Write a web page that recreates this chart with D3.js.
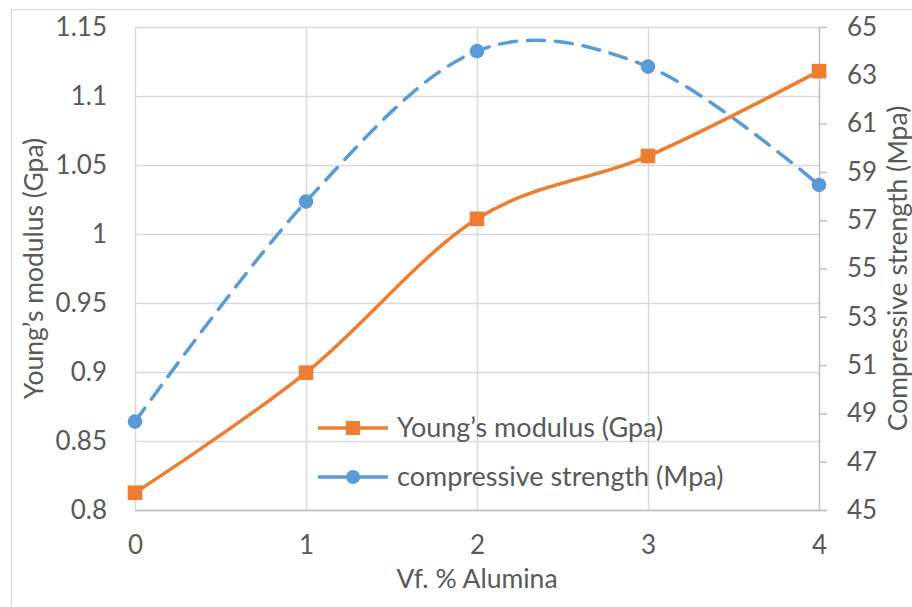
<!DOCTYPE html>
<html>
<head>
<meta charset="utf-8">
<script src="https://cdn.jsdelivr.net/npm/d3@7"></script>
<style>
  html, body { margin: 0; padding: 0; background: #fff; }
  svg { display: block; }
  text { font-family: Lato, "Open Sans", sans-serif; fill: #595959; }
</style>
</head>
<body>
<svg id="chart" width="912" height="607"></svg>
<script>
// ---- data ----
const categories = [0, 1, 2, 3, 4];
const youngsModulus = [0.8125, 0.8995, 1.011, 1.0565, 1.118];
const compressiveStrength = [48.66, 57.77, 64.0, 63.36, 58.46];
const leftTicks = [0.8, 0.85, 0.9, 0.95, 1, 1.05, 1.1, 1.15];
const rightTicks = [45, 47, 49, 51, 53, 55, 57, 59, 61, 63, 65];
const seriesNames = ["Young\u2019s modulus (Gpa)", "compressive strength (Mpa)"];
const xTitle = "Vf. % Alumina";
const yLeftTitle = "Young\u2019s modulus (Gpa)";
const yRightTitle = "Compressive strength (Mpa)";

// ---- layout ----
const svg = d3.select("#chart");
const L = 135, R = 819, T = 27, B = 510;
const orange = "#ED7D31", blue = "#5B9BD5", grid = "#D9D9D9", axisCol = "#BFBFBF";
const tickFont = "26px", titleFont = "26.5px", legendFont = "27px";

const x = d3.scaleLinear().domain([0, 4]).range([L, R]);
const yL = d3.scaleLinear().domain([0.8, 1.15]).range([B, T]);
const yR = d3.scaleLinear().domain([45, 65]).range([B, T]);

// outer chart border
svg.append("rect").attr("x", 11.5).attr("y", 9.5).attr("width", 1000).attr("height", 1000)
  .attr("fill", "none").attr("stroke", grid).attr("stroke-width", 1.2);

// horizontal gridlines
svg.append("g").selectAll("line").data(leftTicks).join("line")
  .attr("x1", L).attr("x2", R)
  .attr("y1", d => Math.round(yL(d)) + 0.5).attr("y2", d => Math.round(yL(d)) + 0.5)
  .attr("stroke", grid).attr("stroke-width", 1.5);

// vertical gridlines
svg.append("g").selectAll("line").data(categories.slice(0, -1)).join("line")
  .attr("x1", d => Math.round(x(d)) + 0.5).attr("x2", d => Math.round(x(d)) + 0.5)
  .attr("y1", T).attr("y2", B)
  .attr("stroke", grid).attr("stroke-width", 1.5);

// left axis (labels only)
const gL = svg.append("g").attr("transform", `translate(${L - 28},0)`)
  .call(d3.axisLeft(yL).tickValues(leftTicks).tickSize(0).tickPadding(0)
    .tickFormat(d => d3.format("")(+d.toFixed(2))));
gL.select(".domain").remove();
gL.selectAll("text").style("font-size", tickFont).attr("fill", "#595959")
  .style("font-family", "Lato, sans-serif");

// right axis
const gR = svg.append("g").attr("transform", `translate(${R},0)`)
  .call(d3.axisRight(yR).tickValues(rightTicks).tickSize(8).tickPadding(20));
gR.select(".domain").attr("stroke", axisCol).attr("stroke-width", 1.5)
  .attr("d", `M0.5,${T}V${B}`);
gR.selectAll(".tick line").attr("stroke", axisCol).attr("stroke-width", 1.5);
gR.selectAll("text").style("font-size", tickFont).attr("fill", "#595959")
  .style("font-family", "Lato, sans-serif");

// bottom axis
const gB = svg.append("g").attr("transform", `translate(0,${B})`)
  .call(d3.axisBottom(x).tickValues(categories).tickSize(0).tickPadding(26)
    .tickFormat(d3.format("d")));
gB.select(".domain").attr("stroke", axisCol).attr("stroke-width", 1.5)
  .attr("d", `M${L},0.5H${R + 8}`);
gB.selectAll("text").style("font-size", tickFont).attr("fill", "#595959")
  .style("font-family", "Lato, sans-serif");

// axis titles
svg.append("text").attr("x", (L + R) / 2).attr("y", 588).attr("text-anchor", "middle")
  .style("font-size", titleFont).text(xTitle);
svg.append("text").attr("transform", `translate(43,${(T + B) / 2}) rotate(-90)`)
  .attr("text-anchor", "middle").style("font-size", titleFont).text(yLeftTitle);
svg.append("text").attr("transform", `translate(907,${(T + B) / 2}) rotate(-90)`)
  .attr("text-anchor", "middle").style("font-size", titleFont).text(yRightTitle);

// lines
const curve = d3.curveCatmullRom.alpha(0);
const lineL = d3.line().x((d, i) => x(categories[i])).y(d => yL(d)).curve(curve);
const lineR = d3.line().x((d, i) => x(categories[i])).y(d => yR(d)).curve(curve);

svg.append("path").attr("d", lineR(compressiveStrength)).attr("fill", "none")
  .attr("stroke", blue).attr("stroke-width", 3.5).attr("stroke-dasharray", "17,11")
  .attr("stroke-linecap", "round");
svg.append("path").attr("d", lineL(youngsModulus)).attr("fill", "none")
  .attr("stroke", orange).attr("stroke-width", 3.5);

// markers
svg.append("g").selectAll("circle").data(compressiveStrength).join("circle")
  .attr("cx", (d, i) => x(categories[i])).attr("cy", d => yR(d)).attr("r", 7.3)
  .attr("fill", blue);
svg.append("g").selectAll("rect").data(youngsModulus).join("rect")
  .attr("x", (d, i) => x(categories[i]) - 7.3).attr("y", d => yL(d) - 7.3)
  .attr("width", 14.6).attr("height", 14.6).attr("fill", orange);

// legend
const legend = [
  { name: seriesNames[0], color: orange, shape: "square", y: 428 },
  { name: seriesNames[1], color: blue, shape: "circle", y: 477 }
];
const lg = svg.append("g");
legend.forEach(e => {
  lg.append("line").attr("x1", 318).attr("x2", 388).attr("y1", e.y).attr("y2", e.y)
    .attr("stroke", e.color).attr("stroke-width", 3.5);
  if (e.shape === "square") {
    lg.append("rect").attr("x", 353 - 7).attr("y", e.y - 7).attr("width", 14).attr("height", 14)
      .attr("fill", e.color);
  } else {
    lg.append("circle").attr("cx", 353).attr("cy", e.y).attr("r", 7).attr("fill", e.color);
  }
  lg.append("text").attr("x", 397).attr("y", e.y).attr("dy", "0.35em")
    .style("font-size", legendFont).text(e.name);
});
</script>
</body>
</html>
